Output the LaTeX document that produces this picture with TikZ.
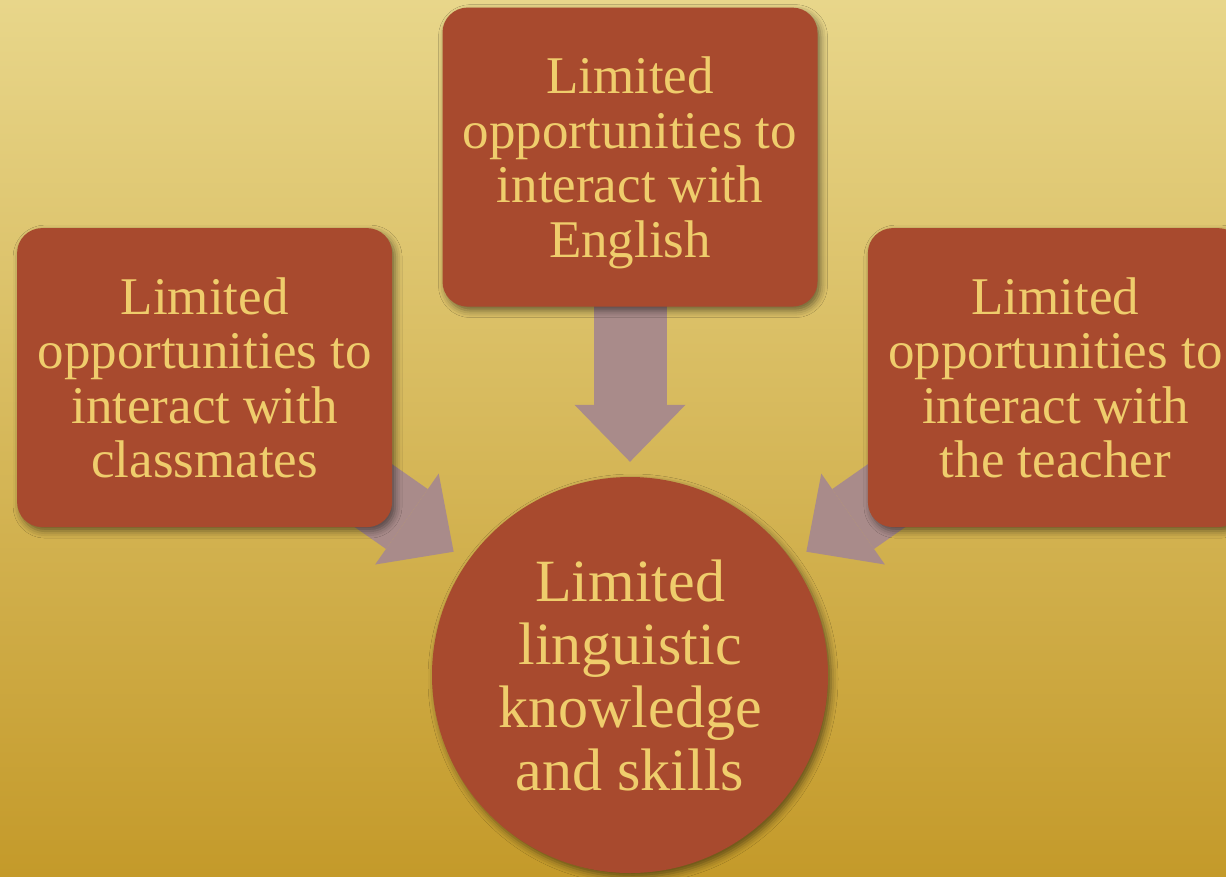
\documentclass[tikz,border=0pt]{standalone}
\usepackage{fontspec}
\setmainfont{Liberation Serif}
\usetikzlibrary{positioning}
\usetikzlibrary{arrows.meta}
\usetikzlibrary{shadows.blur}
\pgfdeclarelayer{back}
\pgfdeclarelayer{mid}
\pgfsetlayers{back,mid,main}
\definecolor{bgtop}{HTML}{E8D68A}
\definecolor{bgmid}{HTML}{D9BC5C}
\definecolor{bgbot}{HTML}{C49A2A}
\definecolor{brick}{HTML}{A84A2E}
\definecolor{straw}{HTML}{EFCD6C}
\definecolor{mauve}{HTML}{A98B8A}
\tikzset{
  causebox/.style= {
    rectangle,
    rounded corners = 25pt,
    fill = brick,
    text = straw,
    minimum width = 375pt,
    minimum height = 299pt,
    inner sep = 0pt,
    text depth = 0pt,
    align = center,
    font = \fontsize{53}{54.5}\selectfont,
    blur shadow = {shadow xshift=3pt, shadow yshift=-4pt, shadow blur radius=7pt, shadow opacity=50}
  },
  effectcircle/.style= {
    circle,
    fill = brick,
    text = straw,
    minimum size = 396pt,
    inner sep = 0pt,
    text depth = 0pt,
    align = center,
    font = \fontsize{60}{63}\selectfont,
    blur shadow = {shadow xshift=3pt, shadow yshift=-4pt, shadow blur radius=7pt, shadow opacity=50}
  },
  blockarrow/.style= {
    draw = mauve,
    line width = 73pt,
    -{Triangle[width=111pt,length=57pt,line width=0pt]}
  }
}

\begin{document}
\begin{tikzpicture}[x=1pt,y=-1pt]
  \useasboundingbox (0,0) rectangle (1226,876);

  \node[effectcircle] (skills) at (630,675) {Limited\\linguistic\\knowledge\\and skills};
  \node[causebox,above=170pt of skills] (english) {Limited\\opportunities to\\interact with\\English};
  \node[causebox,left=50pt of english,yshift=-220.5pt] (classmates) {Limited\\opportunities to\\interact with\\classmates};
  \node[causebox,right=50pt of english,yshift=-220.5pt] (teacher) {Limited\\opportunities to\\interact with\\the teacher};

  \begin{pgfonlayer}{mid}
    \draw[blockarrow,shorten >=15pt] (english.center) -- (skills);
    \draw[blockarrow,shorten >=17pt] (classmates.center) -- (skills);
    \draw[blockarrow,shorten >=17pt] (teacher.center) -- (skills);
  \end{pgfonlayer}

  \begin{pgfonlayer}{back}
    \shade[top color=bgtop,middle color=bgmid,bottom color=bgbot] (0,0) rectangle (1226,876);
  \end{pgfonlayer}

\end{tikzpicture}
\end{document}
